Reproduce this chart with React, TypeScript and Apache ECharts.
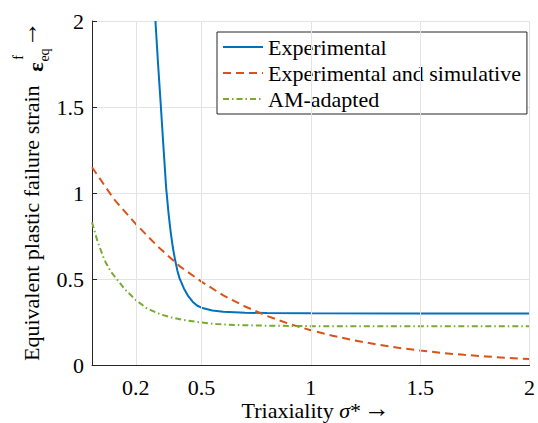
import React, { useEffect, useRef } from "react";
import * as echarts from "echarts";

const FONT = "Liberation Serif";

const xTicks = [0.2, 0.5, 1, 1.5, 2];
const seriesNames = ["Experimental", "Experimental and simulative", "AM-adapted"];

// Experimental (blue, solid)
const expX = [0.29, 0.302, 0.315, 0.327, 0.339, 0.35, 0.36, 0.37, 0.38, 0.39, 0.4, 0.42, 0.44, 0.46, 0.48, 0.5, 0.55, 0.6, 0.7, 0.8, 1.0, 1.5, 2.0];
const expY = [2.0, 1.75, 1.5, 1.26, 1.03, 0.88, 0.77, 0.68, 0.61, 0.55, 0.505, 0.445, 0.4, 0.368, 0.346, 0.333, 0.317, 0.309, 0.304, 0.302, 0.301, 0.3, 0.3];

// Experimental and simulative (orange, dashed)
const simX = [0, 0.1, 0.2, 0.3, 0.4, 0.5, 0.6, 0.7, 0.8, 0.9, 1.0, 1.1, 1.2, 1.3, 1.4, 1.5, 1.6, 1.7, 1.8, 1.9, 2.0];
const simY = [1.15, 0.965, 0.82, 0.69, 0.575, 0.485, 0.405, 0.34, 0.285, 0.24, 0.202, 0.17, 0.143, 0.12, 0.1, 0.084, 0.07, 0.059, 0.05, 0.041, 0.035];

// AM-adapted (green, dash-dot)
const amX = [0, 0.025, 0.057, 0.085, 0.117, 0.15, 0.2, 0.25, 0.312, 0.36, 0.417, 0.5, 0.567, 0.65, 0.777, 1.0, 1.5, 2.0];
const amY = [0.83, 0.72, 0.61, 0.545, 0.494, 0.44, 0.378, 0.33, 0.295, 0.277, 0.262, 0.247, 0.238, 0.233, 0.229, 0.226, 0.225, 0.225];

const pairs = (xs: number[], ys: number[]) => xs.map((x, i) => [x, ys[i]]);

export default function App() {
  const ref = useRef<HTMLDivElement>(null);
  useEffect(() => {
    const chart = echarts.init(ref.current!, null, { renderer: "svg" });
    const axisColor = "#262626";
    const gridColor = "#e3e3e3";
    const lineSeries = (name: string, data: number[][], color: string, type: any) => ({
      name,
      type: "line",
      data,
      symbol: "none",
      symbolSize: 0,
      showSymbol: false,
      clip: true,
      z: 3,
      lineStyle: { color, width: 2, type },
      itemStyle: { color },
    });
    const txt = (text: string, x: number, y: number, fontSize: number, align: string, rotated: boolean, extra: any = {}) => ({
      type: "text",
      x,
      y,
      rotation: rotated ? Math.PI / 2 : 0,
      style: {
        text,
        fontFamily: FONT,
        fontSize,
        fill: "#000",
        align,
        verticalAlign: "middle",
        textAlign: align,
        textVerticalAlign: "middle",
        ...extra,
      },
    });
    chart.setOption({
      animation: false,
      grid: { left: 92, right: 1, top: 21, bottom: 58, containLabel: false },
      xAxis: {
        type: "value",
        min: 0,
        max: 2,
        axisLine: { show: true, onZero: false, lineStyle: { color: axisColor, width: 1 } },
        axisTick: { show: true, inside: true, length: 5, customValues: xTicks, lineStyle: { color: axisColor } },
        axisLabel: {
          customValues: xTicks,
          showMinLabel: true,
          showMaxLabel: true,
          hideOverlap: false,
          fontFamily: FONT,
          fontSize: 22,
          color: "#000",
          margin: 11,
          formatter: (v: number) => String(v),
        },
        splitLine: { show: false },
      },
      yAxis: {
        type: "value",
        min: 0,
        max: 2,
        interval: 0.5,
        axisLine: { show: true, onZero: false, lineStyle: { color: axisColor, width: 1 } },
        axisTick: { show: true, inside: true, length: 5, lineStyle: { color: axisColor } },
        axisLabel: {
          fontFamily: FONT,
          fontSize: 22,
          color: "#000",
          margin: 8,
          formatter: (v: number) => String(v),
        },
        splitLine: { show: true, lineStyle: { color: gridColor, width: 1 } },
      },
      legend: {
        data: seriesNames,
        orient: "vertical",
        left: 217,
        top: 32,
        itemWidth: 40,
        itemHeight: 14,
        itemGap: 4,
        padding: [4, 6, 4, 5],
        backgroundColor: "#fff",
        borderColor: axisColor,
        borderWidth: 1,
        borderRadius: 0,
        itemStyle: { opacity: 0 },
        textStyle: { fontFamily: FONT, fontSize: 22, color: "#000" },
      },
      series: [
        {
          name: "gridx",
          type: "line",
          data: [],
          z: 1,
          silent: true,
          markLine: {
            silent: true,
            symbol: "none",
            label: { show: false },
            lineStyle: { color: gridColor, type: "solid", width: 1 },
            data: xTicks.map((v) => ({ xAxis: v })),
          },
        },
        lineSeries(seriesNames[0], pairs(expX, expY), "#0072BD", "solid"),
        lineSeries(seriesNames[1], pairs(simX, simY), "#D95319", [8, 5]),
        lineSeries(seriesNames[2], pairs(amX, amY), "#77AC30", [6, 3, 1.5, 3]),
      ],
      graphic: [
        txt("Equivalent plastic failure strain", 31, 361, 22, "left", true),
        txt("ε", 35.5, 67, 22, "center", true, { fontWeight: "bold" }),
        txt("f", 18.5, 57.5, 14, "center", true),
        txt("eq", 44.5, 55, 14, "center", true),
        txt("→", 28, 34, 26, "center", true),
        {
          type: "text",
          x: 361,
          y: 410,
          style: {
            text: "{a|Triaxiality }{b|σ}{a|*}",
            fontFamily: FONT,
            fontSize: 22,
            fill: "#000",
            align: "right",
            verticalAlign: "middle",
            textAlign: "right",
            textVerticalAlign: "middle",
            rich: {
              a: { fontFamily: FONT, fontSize: 22, fill: "#000" },
              b: { fontFamily: FONT, fontSize: 22, fontStyle: "italic", fill: "#000" },
            },
          },
        },
        txt("→", 377, 408, 26, "center", false),
      ],
    });
    return () => chart.dispose();
  }, []);
  return <div ref={ref} style={{ position: "absolute", left: 0, top: 0, width: 538, height: 423 }} />;
}
